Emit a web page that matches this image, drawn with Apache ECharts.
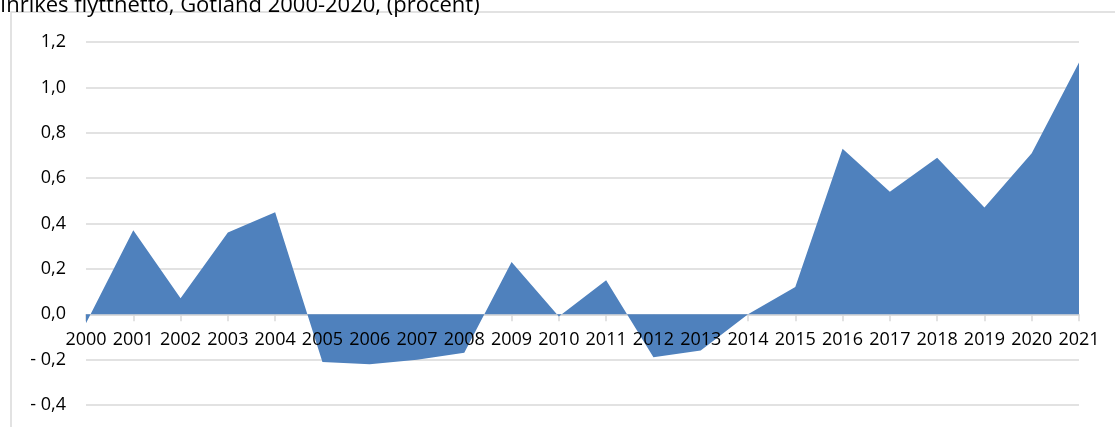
<!DOCTYPE html>
<html>
<head>
<meta charset="utf-8">
<script src="https://cdn.jsdelivr.net/npm/echarts@6/dist/echarts.min.js"></script>
<style>
  html, body { margin: 0; padding: 0; background: #fff; }
  #chart { width: 1115px; height: 427px; }
</style>
</head>
<body>
<div id="chart"></div>
<script>
// Inrikes flyttnetto, Gotland (procent)
const years = ['2000', '2001', '2002', '2003', '2004', '2005', '2006', '2007', '2008', '2009', '2010',
  '2011', '2012', '2013', '2014', '2015', '2016', '2017', '2018', '2019', '2020', '2021']
const netto = [-0.04, 0.37, 0.07, 0.36, 0.45, -0.21, -0.22, -0.20, -0.17, 0.23, -0.01,
  0.15, -0.19, -0.16, 0.0, 0.12, 0.73, 0.54, 0.69, 0.47, 0.71, 1.11]
const yMin = -0.4
const yMax = 1.2
const yStep = 0.2

const fontFamily = '"Open Sans", "Noto Sans", sans-serif'

const gridTop = 42
const gridBottom = 22
const chartHeight = 427
const gridHeight = chartHeight - gridTop - gridBottom
// move the category axis up to the zero line
const zeroOffset = -gridHeight * (0 - yMin) / (yMax - yMin)

function formatTick(v) {
  const s = Math.abs(v).toFixed(1).replace('.', ',')
  return v < -0.0001 ? '- ' + s : s
}

const myChart = echarts.init(document.getElementById('chart'))

const option = {
  animation: false,
  graphic: [
    {
      type: 'rect',
      shape: { x: 11, y: 12, width: 1200, height: 500 },
      style: { fill: 'none', stroke: '#d9d9d9', lineWidth: 1.5 },
      silent: true
    },
    {
      type: 'text',
      left: 0,
      top: -5,
      style: {
        text: 'Inrikes flyttnetto, Gotland 2000-2020, (procent)',
        font: '22px ' + fontFamily,
        fill: '#000'
      }
    }
  ],
  grid: {
    left: 86,
    right: 36,
    top: gridTop,
    bottom: gridBottom,
    containLabel: false,
    outerBoundsMode: 'none'
  },
  xAxis: [
    {
      // axis line + ticks, below the area
      type: 'category',
      data: years,
      boundaryGap: false,
      position: 'bottom',
      offset: zeroOffset,
      axisLine: { onZero: false, lineStyle: { color: '#d9d9d9', width: 1.5 } },
      axisTick: { show: true, alignWithLabel: true, length: 7, lineStyle: { color: '#d9d9d9', width: 1.5 } },
      axisLabel: { show: false },
      splitLine: { show: false }
    },
    {
      // labels only, drawn above the area
      type: 'category',
      data: years,
      boundaryGap: false,
      position: 'bottom',
      offset: zeroOffset,
      z: 10,
      axisLine: { show: false, onZero: false },
      axisTick: { show: false },
      axisLabel: {
        color: '#000',
        fontFamily: fontFamily,
        fontSize: 18,
        margin: 17,
        interval: 0,
        hideOverlap: false
      },
      splitLine: { show: false }
    }
  ],
  yAxis: {
    type: 'value',
    min: yMin,
    max: yMax,
    interval: yStep,
    axisLine: { show: false },
    axisTick: { show: false },
    axisLabel: {
      color: '#000',
      fontFamily: fontFamily,
      fontSize: 18,
      margin: 20,
      formatter: formatTick
    },
    splitLine: { lineStyle: { color: '#d9d9d9', width: 1.5 } }
  },
  series: [
    {
      name: 'Flyttnetto',
      type: 'line',
      xAxisIndex: 0,
      data: netto,
      symbol: 'none',
      lineStyle: { width: 0 },
      areaStyle: { color: '#4f81bd', opacity: 1, origin: 0 },
      itemStyle: { color: '#4f81bd' }
    }
  ]
}

myChart.setOption(option)
</script>
</body>
</html>
